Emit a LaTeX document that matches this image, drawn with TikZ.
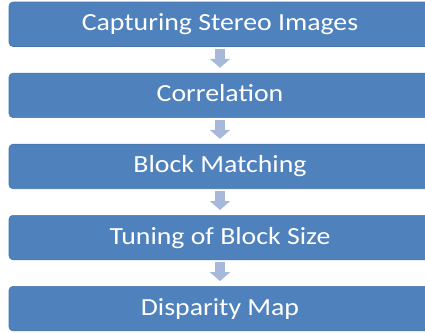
\documentclass[tikz,border=0pt]{standalone}
\usepackage{fontspec}
\setmainfont[FakeStretch=1.13]{Carlito}
\usetikzlibrary{positioning,arrows.meta}
\definecolor{boxblue}{HTML}{4F81BD}
\definecolor{arrowblue}{HTML}{A7B9DA}
\tikzstyle{stage} = [rectangle, rounded corners=4pt, fill=boxblue, draw=boxblue!92!black, line width=0.6pt, minimum height=44.5pt, minimum width=426pt, text=white, font=\fontsize{24.6}{28}\selectfont, text height=16.5pt, text depth=3.5pt, inner sep=0pt]
\tikzstyle{flow} = [arrowblue, line width=10pt, -{Triangle[length=9pt,width=20pt]}, shorten <=2pt, shorten >=5pt]

\begin{document}
\begin{tikzpicture}
            \useasboundingbox (0,0) rectangle (425pt,-332pt);

            \node (capture) [stage] at (222pt,-24.25pt) {\hspace*{-4pt}Capturing Stereo Images};
            \node (corr) [stage, below=26pt of capture] {\hspace*{-4pt}Correlation};
            \node (match) [stage, below=26pt of corr] {\hspace*{-4pt}Block Matching};
            \node (tune) [stage, below=26pt of match] {\hspace*{-4pt}Tuning of Block Size};
            \node (disp) [stage, below=26pt of tune] {\hspace*{-4pt}Disparity Map};

            \foreach \a/\b in {capture/corr, corr/match, match/tune, tune/disp}
            {
                \draw [flow] ([xshift=-2pt]\a.south) -- ([xshift=-2pt]\b.north);
            }
        \end{tikzpicture}
\end{document}
